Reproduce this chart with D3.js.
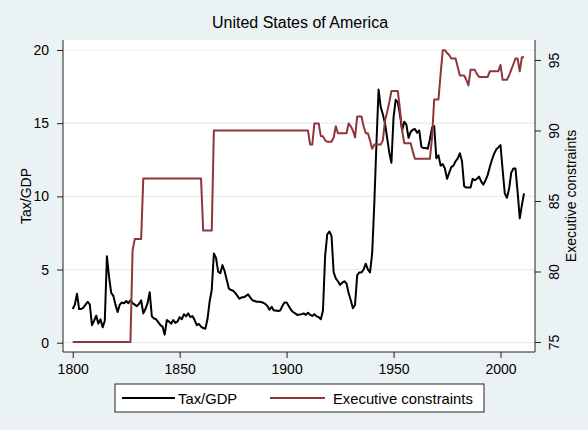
<!DOCTYPE html>
<html>
<head>
<meta charset="utf-8">
<script src="https://cdn.jsdelivr.net/npm/d3@7"></script>
<style>
  body { margin: 0; background: #eaf2f3; }
  text { font-family: "Liberation Sans", Arial, sans-serif; fill: #000; }
</style>
</head>
<body>
<div id="chart"></div>
<script>
// data, one value per year, 1800..2011
const firstYear = 1800;
const taxGDP = [
  2.3, 2.6, 3.35, 2.3, 2.3, 2.4, 2.6, 2.8, 2.6, 1.2,
  1.5, 1.85, 1.3, 1.6, 1.05, 1.5, 5.9, 4.5, 3.4, 3.2,
  2.6, 2.1, 2.6, 2.75, 2.7, 2.85, 2.7, 2.9, 2.7, 2.6,
  2.5, 2.65, 2.9, 2.0, 2.3, 2.7, 3.45, 1.8, 1.65, 1.6,
  1.4, 1.2, 1.1, 0.55, 1.55, 1.45, 1.3, 1.55, 1.35, 1.45,
  1.75, 1.6, 1.95, 1.8, 2.0, 1.75, 1.82, 1.55, 1.2, 1.28,
  1.1, 1.0, 0.95, 1.6, 2.8, 3.6, 6.1, 5.8, 4.85, 4.75,
  5.3, 4.9, 4.3, 3.7, 3.6, 3.55, 3.4, 3.2, 3.0, 3.1,
  3.1, 3.2, 3.3, 3.1, 2.9, 2.85, 2.8, 2.8, 2.78, 2.73,
  2.65, 2.5, 2.25, 2.45, 2.2, 2.2, 2.17, 2.2, 2.5, 2.75,
  2.75, 2.5, 2.25, 2.1, 2.0, 1.9, 1.92, 1.95, 2.0, 1.9,
  2.05, 1.9, 1.83, 1.95, 1.8, 1.75, 1.6, 2.2, 5.9, 7.4,
  7.6, 7.3, 4.8, 4.4, 4.2, 3.95, 4.1, 4.2, 4.05, 3.4,
  2.9, 2.35, 2.6, 4.6, 4.8, 4.8, 5.0, 5.4, 5.0, 4.8,
  6.1, 9.5, 13.6, 17.3, 16.1, 15.6, 15.0, 14.0, 13.0, 12.3,
  15.4, 16.6, 16.4, 15.6, 14.5, 15.1, 14.9, 14.0, 14.4, 14.55,
  14.6, 14.35, 14.5, 13.4, 13.3, 13.3, 13.25, 13.9, 14.7, 14.8,
  12.6, 12.8, 12.1, 12.2, 11.9, 11.2, 11.6, 12.0, 12.1, 12.4,
  12.6, 12.95, 12.4, 10.7, 10.6, 10.6, 10.6, 11.2, 11.1, 11.2,
  11.35, 11.0, 10.8, 11.1, 11.45, 12.0, 12.5, 12.9, 13.2, 13.35,
  13.5, 11.8, 10.2, 9.9, 10.5, 11.6, 11.9, 11.9, 10.3, 8.5,
  9.4, 10.2
];
const execConstraints = [
  75, 75, 75, 75, 75, 75, 75, 75, 75, 75,
  75, 75, 75, 75, 75, 75, 75, 75, 75, 75,
  75, 75, 75, 75, 75, 75, 75, 75, 81.5, 82.3,
  82.3, 82.3, 82.3, 86.6, 86.6, 86.6, 86.6, 86.6, 86.6, 86.6,
  86.6, 86.6, 86.6, 86.6, 86.6, 86.6, 86.6, 86.6, 86.6, 86.6,
  86.6, 86.6, 86.6, 86.6, 86.6, 86.6, 86.6, 86.6, 86.6, 86.6,
  86.6, 82.9, 82.9, 82.9, 82.9, 82.9, 90, 90, 90, 90,
  90, 90, 90, 90, 90, 90, 90, 90, 90, 90,
  90, 90, 90, 90, 90, 90, 90, 90, 90, 90,
  90, 90, 90, 90, 90, 90, 90, 90, 90, 90,
  90, 90, 90, 90, 90, 90, 90, 90, 90, 90,
  90, 89.0, 89.0, 90.5, 90.5, 90.5, 89.6, 89.6, 89.3, 89.2,
  89.2, 89.2, 89.5, 90.3, 89.8, 89.8, 89.8, 89.8, 89.8, 90.5,
  90.3, 90.0, 89.5, 91.0, 91.0, 91.0, 90.3, 89.8, 89.8, 89.3,
  88.7, 89.0, 89.0, 89.0, 89.0, 89.3, 90.7, 91.3, 92.0, 92.8,
  92.8, 92.8, 92.8, 91.5, 90.0, 89.1, 89.1, 89.1, 89.1, 88.5,
  88.0, 88.0, 88.0, 88.0, 88.0, 88.0, 88.0, 88.0, 89.5, 92.2,
  92.2, 92.2, 94.0, 95.7, 95.7, 95.5, 95.35, 95.1, 95.1, 95.1,
  94.5, 93.9, 93.9, 93.9, 93.6, 93.2, 94.3, 94.3, 94.3, 94.0,
  93.8, 93.8, 93.8, 93.8, 93.8, 94.2, 94.2, 94.2, 94.2, 94.2,
  94.65, 93.6, 93.6, 93.6, 93.9, 94.3, 94.7, 95.1, 95.1, 94.2,
  95.2, 95.2
];
const xTicks = [1800, 1850, 1900, 1950, 2000];
const leftTicks = [0, 5, 10, 15, 20];
const rightTicks = [75, 80, 85, 90, 95];
const legendLabels = ["Tax/GDP", "Executive constraints"];
const title = "United States of America";

const width = 588, height = 430;
const plot = { left: 63, right: 535, top: 40, bottom: 352 };
const bg = "#eaf2f3", grid = "#e6eef0", maroon = "#90353b";
const font = '"Liberation Sans", Arial, sans-serif';

const svg = d3.select("#chart").append("svg").attr("width", width).attr("height", height);
svg.append("rect").attr("width", width).attr("height", height).attr("fill", bg);
svg.append("rect")
  .attr("x", plot.left).attr("y", plot.top)
  .attr("width", plot.right - plot.left).attr("height", plot.bottom - plot.top)
  .attr("fill", "#fff");

const x = d3.scaleLinear().domain([1800, 2000]).range([72.7, 500.5]);
const yL = d3.scaleLinear().domain([0, 20]).range([342.7, 50]);
const yR = d3.scaleLinear().domain([75, 95]).range([342, 60]);

// gridlines
svg.append("g").selectAll("line").data(leftTicks).enter().append("line")
  .attr("x1", plot.left).attr("x2", plot.right)
  .attr("y1", (d) => yL(d)).attr("y2", (d) => yL(d))
  .attr("stroke", grid).attr("stroke-width", 1.2);

// axes
const axisLeft = svg.append("g").attr("transform", `translate(${plot.left},0)`)
  .call(d3.axisLeft(yL).tickValues(leftTicks).tickSize(6).tickPadding(8));
const axisRight = svg.append("g").attr("transform", `translate(${plot.right},0)`)
  .call(d3.axisRight(yR).tickValues(rightTicks).tickSize(6).tickPadding(8));
const axisBottom = svg.append("g").attr("transform", `translate(0,${plot.bottom})`)
  .call(d3.axisBottom(x).tickValues(xTicks).tickFormat(d3.format("d")).tickSize(6).tickPadding(6));
[axisLeft, axisRight, axisBottom].forEach((g) => {
  g.select(".domain").remove();
  g.selectAll("line").attr("stroke", "#222");
  g.selectAll("text").attr("font-size", 14).attr("fill", "#000").style("font-family", font);
});
axisRight.selectAll(".tick text")
  .attr("text-anchor", "middle").attr("dy", null).attr("x", 0)
  .attr("transform", "translate(20,0) rotate(-90) translate(0,4)");

// frame lines
svg.append("line").attr("x1", plot.left).attr("x2", plot.left).attr("y1", plot.top).attr("y2", plot.bottom).attr("stroke", "#222");
svg.append("line").attr("x1", plot.right).attr("x2", plot.right).attr("y1", plot.top).attr("y2", plot.bottom).attr("stroke", "#222");
svg.append("line").attr("x1", plot.left).attr("x2", plot.right).attr("y1", plot.bottom).attr("y2", plot.bottom).attr("stroke", "#222");

// series
const lineTax = d3.line().x((d, i) => x(firstYear + i)).y((d) => yL(d));
const lineExec = d3.line().x((d, i) => x(firstYear + i)).y((d) => yR(d));
svg.append("path").datum(taxGDP).attr("d", lineTax)
  .attr("fill", "none").attr("stroke", "#000").attr("stroke-width", 2).attr("stroke-linejoin", "round");
svg.append("path").datum(execConstraints).attr("d", lineExec)
  .attr("fill", "none").attr("stroke", maroon).attr("stroke-width", 2).attr("stroke-linejoin", "round");

// titles
svg.append("text").attr("x", 300).attr("y", 28).attr("text-anchor", "middle").attr("font-size", 16).text(title);
svg.append("text").attr("transform", "translate(31,196) rotate(-90)").attr("text-anchor", "middle").attr("font-size", 14).text("Tax/GDP");
svg.append("text").attr("transform", "translate(576,196) rotate(-90)").attr("text-anchor", "middle").attr("font-size", 14).text("Executive constraints");

// legend
const legend = svg.append("g");
legend.append("rect").attr("x", 115).attr("y", 384).attr("width", 369).attr("height", 28)
  .attr("fill", "#fff").attr("stroke", "#222").attr("stroke-width", 1);
const legendItems = [
  { label: legendLabels[0], color: "#000", x1: 122, x2: 175, tx: 178 },
  { label: legendLabels[1], color: maroon, x1: 270, x2: 325, tx: 333 },
];
legend.selectAll("line").data(legendItems).enter().append("line")
  .attr("x1", (d) => d.x1).attr("x2", (d) => d.x2).attr("y1", 398).attr("y2", 398)
  .attr("stroke", (d) => d.color).attr("stroke-width", 2);
legend.selectAll("text").data(legendItems).enter().append("text")
  .attr("x", (d) => d.tx).attr("y", 403.5).attr("font-size", 14.8).text((d) => d.label);
</script>
</body>
</html>
